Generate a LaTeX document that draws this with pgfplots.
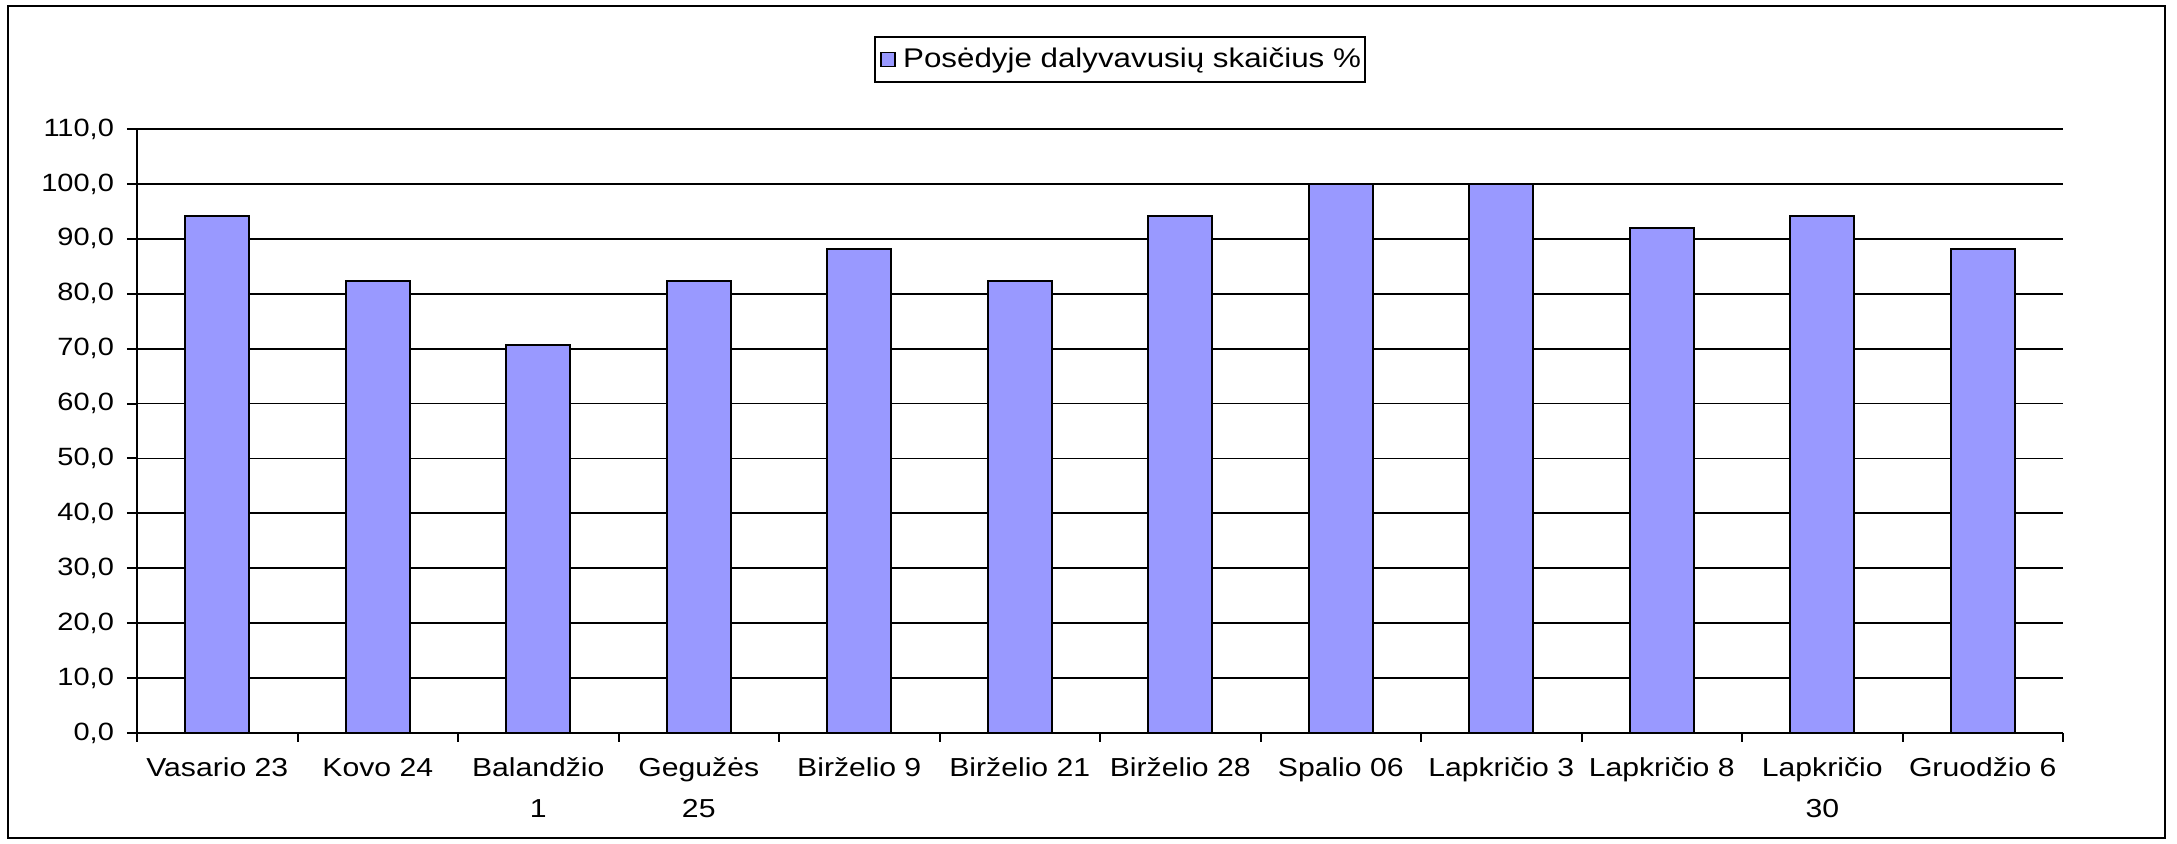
\documentclass[border=0pt]{standalone}
\usepackage{fontspec}
\setmainfont[FakeStretch=1.16]{Liberation Sans}
\usepackage{pgfplots}
\pgfplotsset{compat=1.18}
\definecolor{barblue}{HTML}{9999FF}
\begin{document}
\begin{tikzpicture}
\begin{axis}[
  scale only axis,
  width=963pt, height=302pt,
  xmin=-0.5, xmax=11.5,
  ymin=0, ymax=110,
  ytick={0,10,...,110},
  xtick={0,...,11},
  xticklabels={Vasario 23,Kovo 24,{Balandžio\\1},{Gegužės\\25},Birželio 9,Birželio 21,Birželio 28,Spalio 06,Lapkričio 3,Lapkričio 8,{Lapkričio\\30},Gruodžio 6},
  minor xtick={-0.5,0.5,...,11.5},
  major x tick style={draw=none},
  minor x tick style={black, line width=1pt},
  minor tick length=4.5pt,
  major tick length=5pt,
  ytick style={black, line width=1pt},
  tick align=outside,
  xtick pos=bottom, ytick pos=left,
  axis x line*=bottom, axis y line*=left,
  axis line style={black, line width=1pt},
  ymajorgrids,
  grid style={black, line width=0.9pt},
  /pgf/number format/.cd, fixed, fixed zerofill, precision=1, use comma, assume math mode=true,
  /pgfplots/.cd,
  yticklabel style={font=\fontsize{12.5}{20.5}\selectfont, xshift=-3pt},
  xticklabel style={font=\fontsize{13}{20.5}\selectfont, align=center, yshift=-4pt},
  legend style={at={(0.5104,1.115)}, anchor=center, draw=black, line width=1pt,
    font=\fontsize{13.5}{16}\selectfont, inner xsep=0pt, inner ysep=3.5pt},
  legend image code/.code={\path[draw=none, fill=none] (0pt,0pt) rectangle (12pt,0pt);
    \draw[fill=barblue, draw=black, line width=0.8pt] (3pt,-3.5pt) rectangle (10pt,3.5pt);},
]
\addplot[ybar, bar width=0.4, fill=barblue, draw=black, line width=1pt] coordinates {
  (0,94.1) (1,82.4) (2,70.6) (3,82.4) (4,88.2) (5,82.4)
  (6,94.1) (7,100) (8,100) (9,92.0) (10,94.1) (11,88.2)
};
\addlegendentry{Posėdyje dalyvavusių skaičius \%}
\end{axis}
\draw[black, line width=1.3pt] (-64.5pt,-52.5pt) rectangle (1014pt,363.5pt);
\path (-68.5pt,-55.5pt) rectangle (1020pt,366.5pt);
\end{tikzpicture}
\end{document}
